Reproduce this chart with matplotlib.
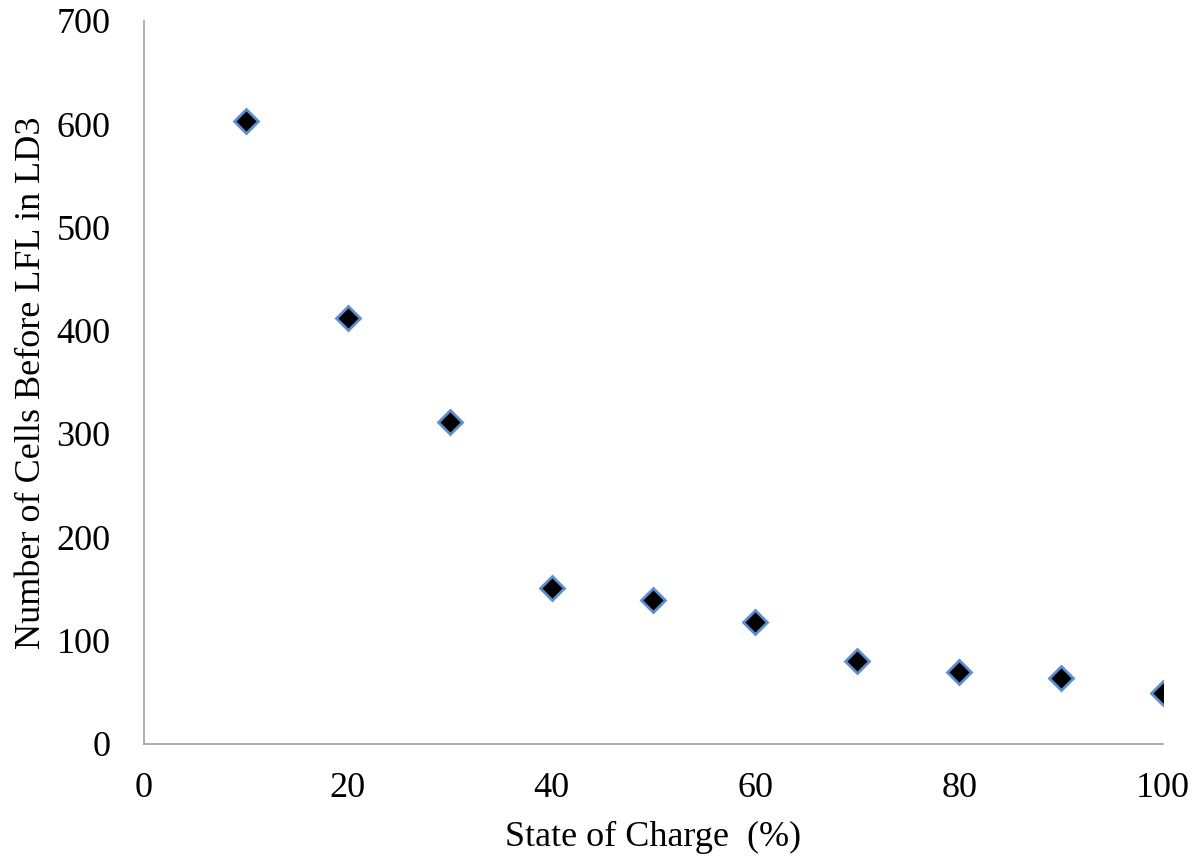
import matplotlib.pyplot as plt

soc = [10, 20, 30, 40, 50, 60, 70, 80, 90, 100]
cells = [603, 412, 312, 151, 139, 118, 80, 70, 64, 49]

plt.rcParams['font.family'] = ['Liberation Serif', 'DejaVu Serif']

fig = plt.figure(figsize=(11.99, 8.65), dpi=100)
ax = fig.add_axes([0.120, 0.140, 0.850, 0.836])

ax.plot(soc, cells, linestyle='none', marker='D', markersize=12,
        markerfacecolor='black', markeredgecolor='#5b8fd0', markeredgewidth=2)

ax.set_xlim(0, 100)
ax.set_ylim(0, 700)
ax.set_xticks(range(0, 101, 20))
ax.set_yticks(range(0, 701, 100))
ax.tick_params(length=0, labelsize=26)
ax.tick_params(axis='x', pad=20)
ax.tick_params(axis='y', pad=24)
for side in ['top', 'right']:
    ax.spines[side].set_visible(False)
for side in ['left', 'bottom']:
    ax.spines[side].set_color('#a0a0a0')
    ax.spines[side].set_linewidth(1.2)

ax.set_xlabel('State of Charge  (%)', fontsize=26, labelpad=12)
ax.set_ylabel('Number of Cells Before LFL in LD3', fontsize=26, labelpad=6)

fig.savefig('out.png', dpi=100)
